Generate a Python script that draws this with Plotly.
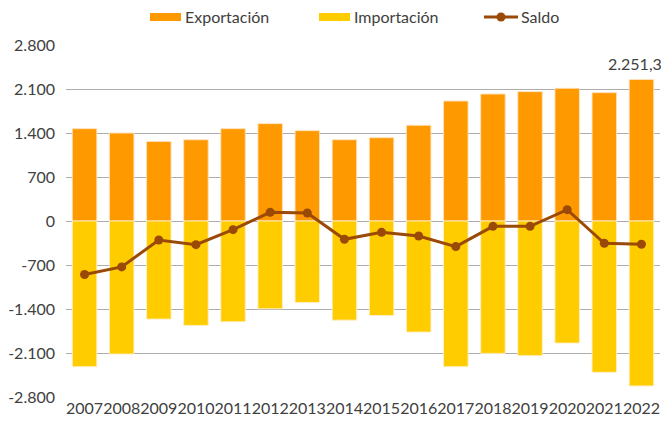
import plotly.graph_objects as go

years = list(range(2007, 2023))
year_labels = [str(y) for y in years]
exportacion = [1469, 1400, 1266, 1293, 1469, 1549, 1437, 1293, 1325, 1523,
               1909, 2020, 2058, 2111, 2042, 2251.3]
importacion = [-2318, -2117, -1561, -1661, -1603, -1397, -1296, -1577, -1503, -1767,
               -2318, -2106, -2143, -1942, -2407, -2624]
saldo = [-852, -730, -302, -376, -138, 138, 127, -291, -180, -238,
         -407, -85, -85, 180, -354, -370]
ytick_vals = [-2800, -2100, -1400, -700, 0, 700, 1400, 2100, 2800]
ytick_text = ["-2.800", "-2.100", "-1.400", "-700", "0", "700", "1.400", "2.100", "2.800"]

FONT = "Lato"
TXT = "#404040"
C_EXP = "#FF9900"
C_IMP = "#FFCC00"
C_SAL = "#9A4A06"

W, H = 661, 421
ML, MR, MT, MB = 66, 1, 45, 24
PW, PH = W - ML - MR, H - MT - MB

def px(x):
    return (x - ML) / PW

def py(y):
    return (H - MB - y) / PH

def fmt_es(v):
    s = f"{v:,.1f}"
    return s.replace(",", "X").replace(".", ",").replace("X", ".")

fig = go.Figure()
fig.add_trace(go.Bar(x=years, y=exportacion, name="Exportación",
                     marker=dict(color=C_EXP, line=dict(color="rgba(255,225,190,0.9)", width=1))))
fig.add_trace(go.Bar(x=years, y=importacion, name="Importación",
                     marker=dict(color=C_IMP, line=dict(color="rgba(255,240,200,0.9)", width=1))))
fig.add_trace(go.Scatter(x=years, y=saldo, name="Saldo", mode="lines+markers",
                         line=dict(color=C_SAL, width=3),
                         marker=dict(color=C_SAL, size=9)))

fig.add_annotation(x=years[-1], y=exportacion[-1], text=fmt_es(exportacion[-1]),
                   showarrow=False, yanchor="bottom", yshift=4, xanchor="center",
                   xshift=-6, font=dict(family=FONT, size=16, color=TXT))

# custom legend (matches the reference's wide swatches)
legend_items = [("Exportación", 150, "bar", C_EXP),
                ("Importación", 319, "bar", C_IMP),
                ("Saldo", 484, "line", C_SAL)]
shapes = []
annos = []
for name, x0, kind, col in legend_items:
    if kind == "bar":
        shapes.append(dict(type="rect", xref="paper", yref="paper",
                           x0=px(x0), x1=px(x0 + 31), y0=py(21), y1=py(13),
                           fillcolor=col, line=dict(width=0)))
        tx = x0 + 33
    else:
        shapes.append(dict(type="line", xref="paper", yref="paper",
                           x0=px(x0), x1=px(x0 + 34), y0=py(17), y1=py(17),
                           line=dict(color=col, width=3)))
        shapes.append(dict(type="circle", xref="paper", yref="paper",
                           x0=px(x0 + 12.5), x1=px(x0 + 21.5), y0=py(21.5), y1=py(12.5),
                           fillcolor=col, line=dict(width=0)))
        tx = x0 + 35
    annos.append(dict(text=name, xref="paper", yref="paper", x=px(tx), y=py(17),
                      xanchor="left", yanchor="middle", showarrow=False,
                      font=dict(family=FONT, size=16, color=TXT)))
for a in annos:
    fig.add_annotation(**a)

fig.update_layout(
    width=W, height=H,
    barmode="relative", bargap=0.34,
    plot_bgcolor="white", paper_bgcolor="white",
    margin=dict(l=ML, r=MR, t=MT, b=MB),
    font=dict(family=FONT, size=16, color=TXT),
    showlegend=False,
    shapes=shapes,
)
fig.update_xaxes(range=[2006.5, 2022.5], tickvals=years, ticktext=year_labels,
                 tickangle=0, showgrid=False, showline=False, ticks="", zeroline=False,
                 tickfont=dict(size=16, color=TXT), automargin=False)
fig.update_yaxes(range=[-2800, 2800], tickvals=ytick_vals, ticktext=ytick_text,
                 showgrid=True, gridcolor="#ADADAD", gridwidth=1.3,
                 zeroline=True, zerolinecolor="#ADADAD", zerolinewidth=1.3,
                 showline=False, ticks="", ticklabelstandoff=10,
                 tickfont=dict(size=16, color=TXT), automargin=False)

fig.write_html("out.html", config={"displayModeBar": False},
               post_script="document.body.style.margin='0';")
